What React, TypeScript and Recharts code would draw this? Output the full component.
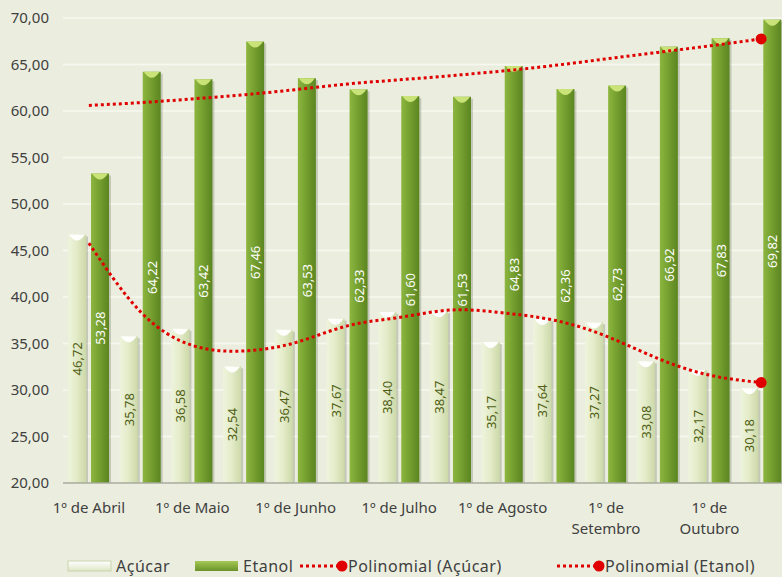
import React from 'react';
import { ComposedChart, Bar, Line, XAxis, YAxis, CartesianGrid, Legend, LabelList } from 'recharts';

const categories = [
  '1º de Abril', '15 de Abril', '1º de Maio', '15 de Maio', '1º de Junho', '15 de Junho',
  '1º de Julho', '15 de Julho', '1º de Agosto', '15 de Agosto', '1º de Setembro', '15 de Setembro',
  '1º de Outubro', '15 de Outubro',
];
const acucar = [46.72, 35.78, 36.58, 32.54, 36.47, 37.67, 38.4, 38.47, 35.17, 37.64, 37.27, 33.08, 32.17, 30.18];
const etanol = [53.28, 64.22, 63.42, 67.46, 63.53, 62.33, 61.6, 61.53, 64.83, 62.36, 62.73, 66.92, 67.83, 69.82];
const trendAcucar = [45.8, 38.4, 34.8, 34.2, 35.1, 36.9, 37.8, 38.6, 38.3, 37.5, 35.8, 33.4, 31.6, 30.8];
const trendEtanol = [60.6, 60.9, 61.3, 61.75, 62.3, 62.9, 63.35, 63.8, 64.3, 64.9, 65.6, 66.3, 67.0, 67.75];
const yTicks = [20, 25, 30, 35, 40, 45, 50, 55, 60, 65, 70];

const data = categories.map((c, i) => ({
  cat: c,
  acucar: acucar[i],
  etanol: etanol[i],
  trendA: trendAcucar[i],
  trendE: trendEtanol[i],
}));

const FONT = '"Noto Sans", "DejaVu Sans", sans-serif';
const fmt = (v: number) => v.toFixed(2).replace('.', ',');

const makeBarShape = (kind: 'a' | 'e') => (props: any) => {
  const { x, y, width, height } = props;
  if (!height || height <= 0) return null;
  const w = width;
  const capColor = kind === 'a' ? '#ffffff' : '#cfe77c';
  return (
    <g>
      <rect x={x + 2} y={y + 2} width={w} height={height - 2} fill="rgba(60,70,40,0.22)" />
      <rect x={x} y={y} width={w} height={height} fill={kind === 'a' ? 'url(#gradA)' : 'url(#gradE)'} />
      <path
        d={`M ${x + 1} ${y} L ${x + w - 1} ${y} Q ${x + w / 2} ${y + 12} ${x + 1} ${y} Z`}
        fill={capColor}
        opacity={0.95}
      />
    </g>
  );
};

const barLabel = (color: string) => (props: any) => {
  const { x, y, width, height, value } = props;
  const cx = x + width / 2;
  const cy = y + height / 2;
  return (
    <text
      x={cx}
      y={cy}
      transform={`rotate(-90 ${cx} ${cy})`}
      textAnchor="middle"
      dominantBaseline="central"
      fill={color}
      fontSize={13}
      fontFamily={FONT}
    >
      {fmt(Number(value))}
    </text>
  );
};

const endDot = (props: any) => {
  const { cx, cy, index } = props;
  if (index !== categories.length - 1) return <g key={`d${index}`} />;
  return <circle key={`d${index}`} cx={cx} cy={cy} r={5.5} fill="#e00000" />;
};

const XTick = (props: any) => {
  const { x, y, payload } = props;
  const label: string = payload.value;
  let lines = [label];
  if (label.length > 12) {
    const idx = label.indexOf(' de ') + 3;
    lines = [label.slice(0, idx), label.slice(idx + 1)];
  }
  return (
    <text x={x} y={y + 22} textAnchor="middle" fill="#404040" fontSize={15} fontFamily={FONT}>
      {lines.map((l, i) => (
        <tspan key={i} x={x} dy={i === 0 ? 0 : 21}>
          {l}
        </tspan>
      ))}
    </text>
  );
};

const LegendContent = () => {
  const txt: React.CSSProperties = { fontSize: 16, color: '#404040', fontFamily: FONT, letterSpacing: 0.5, lineHeight: '20px' };
  const item: React.CSSProperties = { display: 'flex', alignItems: 'center', position: 'absolute', top: 19 };
  const dotted = (
    <svg width={50} height={14}>
      <line x1={2} y1={7} x2={42} y2={7} stroke="#e00000" strokeWidth={3} strokeDasharray="3 3" />
      <circle cx={44} cy={7} r={5.5} fill="#e00000" />
    </svg>
  );
  return (
    <div style={{ position: 'relative', width: 782, height: 40 }}>
      <div style={{ ...item, left: 67 }}>
        <svg width={46} height={14} style={{ marginRight: 3 }}>
          <defs>
            <linearGradient id="legE" x1="0" y1="0" x2="0" y2="1">
              <stop offset="0" stopColor="#a5c955" />
              <stop offset="1" stopColor="#6a9228" />
            </linearGradient>
            <linearGradient id="legA" x1="0" y1="0" x2="0" y2="1">
              <stop offset="0" stopColor="#ffffff" />
              <stop offset="1" stopColor="#dfe7c6" />
            </linearGradient>
          </defs>
          <rect x={1} y={2} width={43} height={10} fill="url(#legA)" stroke="#c9d3ad" />
        </svg>
        <span style={txt}>Açúcar</span>
      </div>
      <div style={{ ...item, left: 194 }}>
        <svg width={46} height={14} style={{ marginRight: 3 }}>
          <rect x={1} y={2} width={43} height={10} fill="url(#legE)" />
        </svg>
        <span style={txt}>Etanol</span>
      </div>
      <div style={{ ...item, left: 298 }}>
        {dotted}
        <span style={txt}>Polinomial (Açúcar)</span>
      </div>
      <div style={{ ...item, left: 555 }}>
        {dotted}
        <span style={txt}>Polinomial (Etanol)</span>
      </div>
    </div>
  );
};

export default function App() {
  return (
    <div
      style={{
        position: 'absolute',
        left: 0,
        top: 0,
        width: 782,
        height: 577,
        overflow: 'hidden',
        background: '#ebeedf',
      }}
    >
      <ComposedChart
        width={789}
        height={577}
        data={data}
        margin={{ top: 18, right: 2, bottom: 0, left: 0 }}
        barGap={5}
        barCategoryGap={5}
      >
        <defs>
          <linearGradient id="gradA" x1="0" y1="0" x2="1" y2="0">
            <stop offset="0" stopColor="#eef4dc" />
            <stop offset="0.45" stopColor="#e4ecca" />
            <stop offset="1" stopColor="#ccd9a8" />
          </linearGradient>
          <linearGradient id="gradE" x1="0" y1="0" x2="1" y2="0">
            <stop offset="0" stopColor="#8db63f" />
            <stop offset="0.45" stopColor="#76a030" />
            <stop offset="1" stopColor="#5b8520" />
          </linearGradient>
        </defs>
        <CartesianGrid vertical={false} stroke="#f7f9f0" strokeWidth={1.5} />
        <XAxis
          dataKey="cat"
          interval={1}
          tick={<XTick />}
          tickLine={false}
          axisLine={{ stroke: '#a6a99a', strokeWidth: 1.5 }}
          height={54}
        />
        <YAxis
          domain={[20, 70]}
          ticks={yTicks}
          tickFormatter={fmt}
          axisLine={false}
          tickLine={false}
          width={63}
          tick={{ fill: '#404040', fontSize: 15, fontFamily: FONT }}
          tickMargin={8}
        />
        <Bar dataKey="acucar" barSize={18} shape={makeBarShape('a')} isAnimationActive={false}>
          <LabelList dataKey="acucar" content={barLabel('#4f5e14')} />
        </Bar>
        <Bar dataKey="etanol" barSize={18} shape={makeBarShape('e')} isAnimationActive={false}>
          <LabelList dataKey="etanol" content={barLabel('#ffffff')} />
        </Bar>
        <Line
          dataKey="trendA"
          type="natural"
          stroke="#e00000"
          strokeWidth={3}
          strokeDasharray="3 3"
          dot={endDot}
          activeDot={false}
          isAnimationActive={false}
        />
        <Line
          dataKey="trendE"
          type="natural"
          stroke="#e00000"
          strokeWidth={3}
          strokeDasharray="3 3"
          dot={endDot}
          activeDot={false}
          isAnimationActive={false}
        />
        <Legend
          verticalAlign="bottom"
          height={40}
          content={<LegendContent />}
          wrapperStyle={{ left: 0, width: 782, bottom: 0, height: 40, padding: 0, margin: 0 }}
        />
      </ComposedChart>
    </div>
  );
}
